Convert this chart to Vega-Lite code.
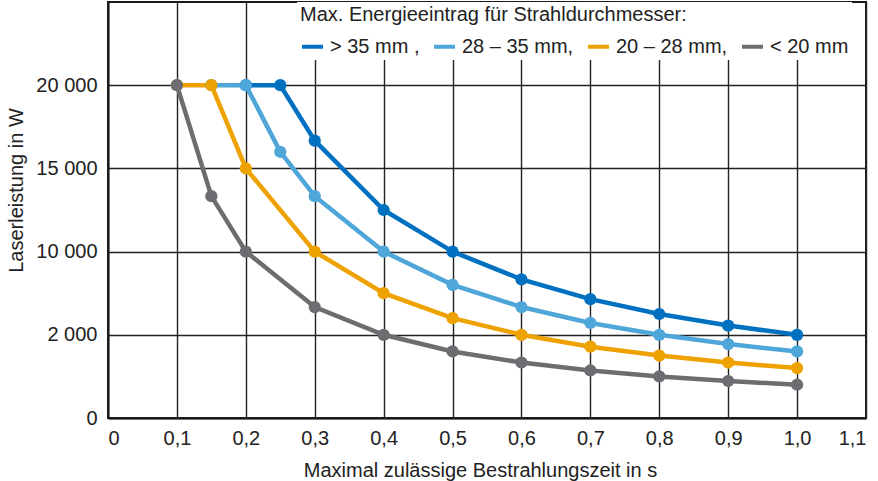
{
  "$schema": "https://vega.github.io/schema/vega-lite/v6.json",
  "width": 758,
  "height": 416,
  "autosize": {"type": "none"},
  "padding": {"left": 108, "top": 2, "right": 12, "bottom": 63},
  "background": "white",
  "config": {
    "font": "Liberation Sans",
    "view": {"stroke": "#1a1a1a", "strokeWidth": 2},
    "axis": {
      "labelFont": "Liberation Sans",
      "titleFont": "Liberation Sans",
      "labelFontSize": 20,
      "titleFontSize": 20,
      "labelColor": "#222",
      "titleColor": "#222",
      "titleFontWeight": "normal",
      "gridColor": "#222",
      "gridWidth": 1.4,
      "gridOpacity": 1,
      "ticks": false,
      "domainColor": "#1a1a1a",
      "domainWidth": 2
    }
  },
  "data": {
    "values": [
      {"t": 0.2, "p": 20000, "d": "> 35 mm"},
      {"t": 0.25, "p": 20000, "d": "> 35 mm"},
      {"t": 0.3, "p": 16667, "d": "> 35 mm"},
      {"t": 0.4, "p": 12500, "d": "> 35 mm"},
      {"t": 0.5, "p": 10000, "d": "> 35 mm"},
      {"t": 0.6, "p": 8333, "d": "> 35 mm"},
      {"t": 0.7, "p": 7143, "d": "> 35 mm"},
      {"t": 0.8, "p": 6250, "d": "> 35 mm"},
      {"t": 0.9, "p": 5556, "d": "> 35 mm"},
      {"t": 1.0, "p": 5000, "d": "> 35 mm"},
      {"t": 0.15, "p": 20000, "d": "28 – 35 mm"},
      {"t": 0.2, "p": 20000, "d": "28 – 35 mm"},
      {"t": 0.25, "p": 16000, "d": "28 – 35 mm"},
      {"t": 0.3, "p": 13333, "d": "28 – 35 mm"},
      {"t": 0.4, "p": 10000, "d": "28 – 35 mm"},
      {"t": 0.5, "p": 8000, "d": "28 – 35 mm"},
      {"t": 0.6, "p": 6667, "d": "28 – 35 mm"},
      {"t": 0.7, "p": 5714, "d": "28 – 35 mm"},
      {"t": 0.8, "p": 5000, "d": "28 – 35 mm"},
      {"t": 0.9, "p": 4444, "d": "28 – 35 mm"},
      {"t": 1.0, "p": 4000, "d": "28 – 35 mm"},
      {"t": 0.1, "p": 20000, "d": "20 – 28 mm"},
      {"t": 0.15, "p": 20000, "d": "20 – 28 mm"},
      {"t": 0.2, "p": 15000, "d": "20 – 28 mm"},
      {"t": 0.3, "p": 10000, "d": "20 – 28 mm"},
      {"t": 0.4, "p": 7500, "d": "20 – 28 mm"},
      {"t": 0.5, "p": 6000, "d": "20 – 28 mm"},
      {"t": 0.6, "p": 5000, "d": "20 – 28 mm"},
      {"t": 0.7, "p": 4286, "d": "20 – 28 mm"},
      {"t": 0.8, "p": 3750, "d": "20 – 28 mm"},
      {"t": 0.9, "p": 3333, "d": "20 – 28 mm"},
      {"t": 1.0, "p": 3000, "d": "20 – 28 mm"},
      {"t": 0.1, "p": 20000, "d": "< 20 mm"},
      {"t": 0.15, "p": 13333, "d": "< 20 mm"},
      {"t": 0.2, "p": 10000, "d": "< 20 mm"},
      {"t": 0.3, "p": 6667, "d": "< 20 mm"},
      {"t": 0.4, "p": 5000, "d": "< 20 mm"},
      {"t": 0.5, "p": 4000, "d": "< 20 mm"},
      {"t": 0.6, "p": 3333, "d": "< 20 mm"},
      {"t": 0.7, "p": 2857, "d": "< 20 mm"},
      {"t": 0.8, "p": 2500, "d": "< 20 mm"},
      {"t": 0.9, "p": 2222, "d": "< 20 mm"},
      {"t": 1.0, "p": 2000, "d": "< 20 mm"}
    ]
  },
  "encoding": {
    "x": {
      "field": "t",
      "type": "quantitative",
      "scale": {"domain": [0, 1.1], "nice": false, "zero": true},
      "axis": {
        "values": [0, 0.1, 0.2, 0.3, 0.4, 0.5, 0.6, 0.7, 0.8, 0.9, 1.0, 1.1],
        "labelExpr": "datum.value == 0 ? '0' : replace(format(datum.value, '.1f'), '.', ',')",
        "labelPadding": 10,
        "title": "Maximal zulässige Bestrahlungszeit in s",
        "titleX": 372,
        "titleY": 58,
        "titleBaseline": "alphabetic"
      }
    },
    "y": {
      "field": "p",
      "type": "quantitative",
      "scale": {"domain": [0, 25000], "nice": false},
      "axis": {
        "values": [0, 5000, 10000, 15000, 20000],
        "labelExpr": "datum.value == 0 ? '0' : datum.value == 5000 ? '2 000' : datum.value == 10000 ? '10 000' : datum.value == 15000 ? '15 000' : '20 000'",
        "labelPadding": 11,
        "title": "Laserleistung in W",
        "titleX": -86,
        "titleY": 188,
        "titleBaseline": "alphabetic"
      }
    },
    "color": {
      "field": "d",
      "type": "nominal",
      "scale": {
        "domain": ["> 35 mm", "28 – 35 mm", "20 – 28 mm", "< 20 mm"],
        "range": ["#0071c1", "#4ea6d9", "#eea200", "#6c6d70"]
      },
      "legend": {
        "title": "Max. Energieeintrag für Strahldurchmesser:",
        "orient": "none",
        "legendX": 189,
        "legendY": 0,
        "direction": "horizontal",
        "columns": 4,
        "fillColor": "white",
        "padding": 3,
        "titleFont": "Liberation Sans",
        "titleFontSize": 20,
        "titleFontWeight": "normal",
        "titleColor": "#222",
        "titlePadding": 9,
        "titleLimit": 700,
        "labelFont": "Liberation Sans",
        "labelFontSize": 20,
        "labelColor": "#222",
        "labelLimit": 300,
        "labelExpr": "datum.label == '> 35 mm' ? '> 35 mm ,' : datum.label == '< 20 mm' ? datum.label : datum.label + ','",
        "symbolType": "stroke",
        "symbolSize": 440,
        "symbolStrokeWidth": 4,
        "labelOffset": 5,
        "columnPadding": 6,
        "symbolOffset": 0,
        "encode": {
          "symbols": {
            "update": {
              "stroke": {"signal": "datum.value == '> 35 mm' ? '#27499b' : scale('color', datum.value)"}
            }
          }
        }
      }
    }
  },
  "layer": [
    {"mark": {"type": "line", "strokeWidth": 4.5}},
    {"mark": {"type": "point", "filled": true, "opacity": 1, "size": 150}, "encoding": {"color": {"field": "d", "type": "nominal", "legend": null}}}
  ]
}
